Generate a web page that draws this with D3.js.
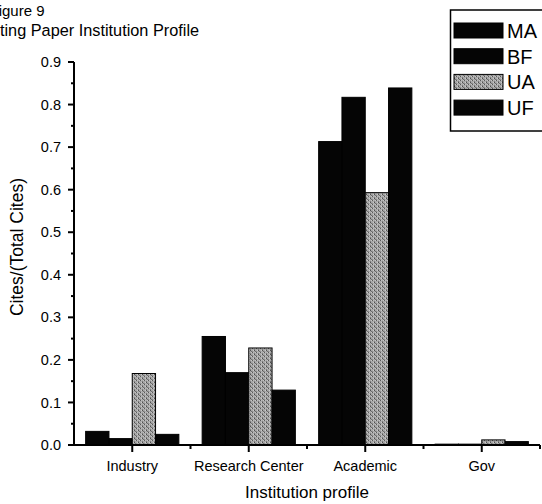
<!DOCTYPE html>
<html>
<head>
<meta charset="utf-8">
<script src="https://cdn.jsdelivr.net/npm/d3@7"></script>
<style>
  html, body { margin: 0; padding: 0; background: #fff; }
  svg { display: block; font-family: "Liberation Sans", Arial, sans-serif; }
</style>
</head>
<body>
<svg id="chart" width="542" height="504"></svg>
<script>
const categories = ["Industry", "Research Center", "Academic", "Gov"];
const seriesNames = ["MA", "BF", "UA", "UF"];
const MA = [0.032, 0.255, 0.713, 0.002];
const BF = [0.015, 0.170, 0.817, 0.002];
const UA = [0.168, 0.228, 0.593, 0.012];
const UF = [0.025, 0.129, 0.839, 0.008];
const seriesValues = [MA, BF, UA, UF];
const yTicks = [0.0, 0.1, 0.2, 0.3, 0.4, 0.5, 0.6, 0.7, 0.8, 0.9];
const titleLines = ["Figure 9", "Citing Paper Institution Profile"];
const xTitle = "Institution profile";
const yTitle = "Cites/(Total Cites)";

const svg = d3.select("#chart");

// Stippled gray texture for the UA series
const defs = svg.append("defs");
const pat = defs.append("pattern").attr("id", "stipple")
  .attr("patternUnits", "userSpaceOnUse").attr("width", 4).attr("height", 4);
pat.append("rect").attr("width", 4).attr("height", 4).attr("fill", "#a8a8a8");
[[0,0,"#5a5a5a"],[2,1,"#7e7e7e"],[1,2,"#cacaca"],[3,3,"#6e6e6e"],[3,0,"#c4c4c4"],[0,3,"#909090"],[2,2,"#505050"],[1,0,"#bcbcbc"]]
  .forEach(([x,y,c]) => pat.append("rect").attr("x", x).attr("y", y).attr("width", 1).attr("height", 1).attr("fill", c));
const fills = ["#050505", "#050505", "url(#stipple)", "#050505"];

const x0 = 74, x1 = 540, yBase = 445, yTop = 62;
const x = d3.scaleBand().domain(categories).range([x0, x1]).padding(0);
const xs = d3.scaleBand().domain(seriesNames)
  .range([x.bandwidth() * 0.1, x.bandwidth() * 0.9]).padding(0);
const y = d3.scaleLinear().domain([0, 0.9]).range([yBase, yTop]);

// Bars
const g = svg.append("g");
categories.forEach((cat, ci) => {
  seriesNames.forEach((s, si) => {
    const v = seriesValues[si][ci];
    g.append("rect")
      .attr("x", x(cat) + xs(s))
      .attr("y", y(v))
      .attr("width", xs.bandwidth())
      .attr("height", yBase - y(v))
      .attr("fill", fills[si])
      .attr("stroke", "#000")
      .attr("stroke-width", 1);
  });
});

// Y axis
const yAxis = svg.append("g");
yAxis.append("line").attr("x1", x0).attr("x2", x0).attr("y1", yTop).attr("y2", yBase)
  .attr("stroke", "#000").attr("stroke-width", 2);
yTicks.forEach(t => {
  yAxis.append("line").attr("x1", x0 - 6).attr("x2", x0).attr("y1", y(t)).attr("y2", y(t))
    .attr("stroke", "#000").attr("stroke-width", 2);
  yAxis.append("text").attr("x", x0 - 13).attr("y", y(t)).attr("dy", "0.35em")
    .attr("text-anchor", "end").attr("font-size", 14.5).text(d3.format(".1f")(t));
});
yTicks.slice(0, -1).forEach(t => {
  const m = t + 0.05;
  yAxis.append("line").attr("x1", x0 - 3).attr("x2", x0).attr("y1", y(m)).attr("y2", y(m))
    .attr("stroke", "#000").attr("stroke-width", 2);
});

// X axis
const xAxis = svg.append("g");
xAxis.append("line").attr("x1", x0).attr("x2", x1).attr("y1", yBase).attr("y2", yBase)
  .attr("stroke", "#000").attr("stroke-width", 2);
categories.forEach(cat => {
  const cx = x(cat) + x.bandwidth() / 2;
  xAxis.append("line").attr("x1", cx).attr("x2", cx).attr("y1", yBase).attr("y2", yBase + 7)
    .attr("stroke", "#000").attr("stroke-width", 2);
  xAxis.append("text").attr("x", cx).attr("y", yBase + 26)
    .attr("text-anchor", "middle").attr("font-size", 14.5).text(cat);
});
categories.forEach(cat => {
  const bx = x(cat) + x.bandwidth();
  xAxis.append("line").attr("x1", bx).attr("x2", bx).attr("y1", yBase).attr("y2", yBase + 4)
    .attr("stroke", "#000").attr("stroke-width", 2);
});

// Axis titles
svg.append("text").attr("x", (x0 + x1) / 2).attr("y", 498)
  .attr("text-anchor", "middle").attr("font-size", 17).text(xTitle);
svg.append("text").attr("transform", "translate(23,247) rotate(-90)")
  .attr("text-anchor", "middle").attr("font-size", 17.5).text(yTitle);

// Title (clipped on the left, as in the reference)
svg.append("text").attr("x", -10.5).attr("y", 16).attr("font-size", 15).text(titleLines[0]);
svg.append("text").attr("x", -15.4).attr("y", 36).attr("font-size", 16.3).text(titleLines[1]);

// Legend
const leg = svg.append("g");
leg.append("rect").attr("x", 450.5).attr("y", 10).attr("width", 100).attr("height", 121)
  .attr("fill", "#fff").attr("stroke", "#000").attr("stroke-width", 1.5);
seriesNames.forEach((s, i) => {
  const ly = 23 + i * 25.7;
  leg.append("rect").attr("x", 454).attr("y", ly).attr("width", 49).attr("height", 15)
    .attr("fill", fills[i]).attr("stroke", "#000").attr("stroke-width", 1);
  leg.append("text").attr("x", 507).attr("y", ly + 15).attr("font-size", 20).text(s);
});
</script>
</body>
</html>
